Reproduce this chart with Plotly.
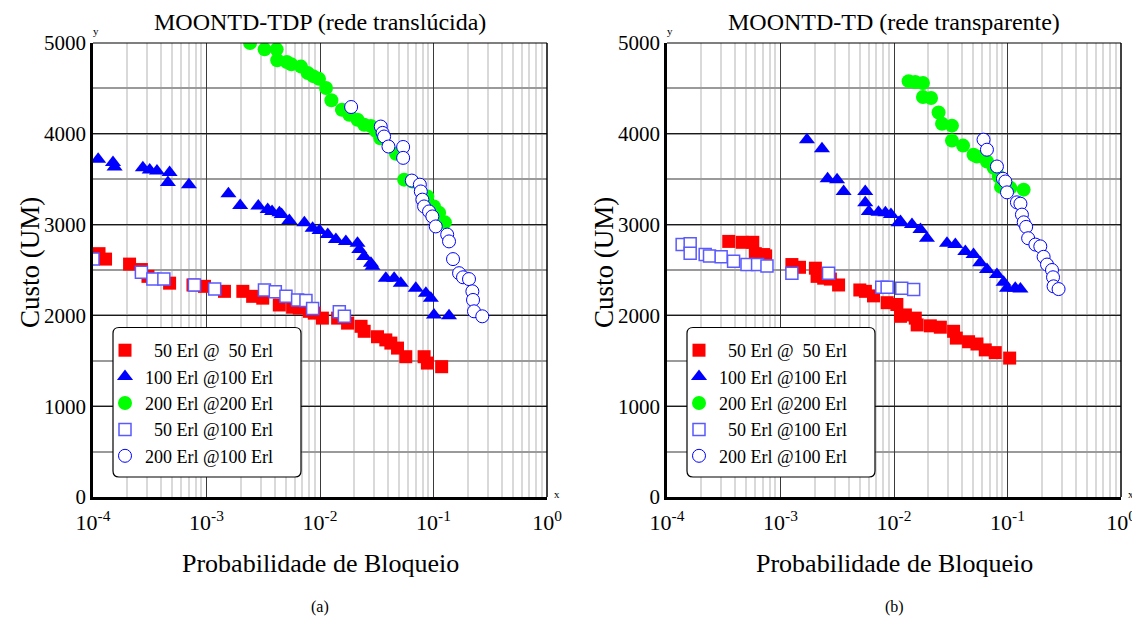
import plotly.graph_objects as go

# ---------------- data ----------------
series_names = ["\u200750 Erl @\u200750 Erl", "100 Erl @100 Erl", "200 Erl @200 Erl",
                "\u200750 Erl @100 Erl", "200 Erl @100 Erl"]

# (a) MOONTD-TDP (rede translúcida)
a_r_x = [0.000113, 0.000129, 0.00021, 0.000267, 0.000305, 0.000473, 0.00076, 0.00096, 0.00144, 0.00209,
         0.00255, 0.00313, 0.00438, 0.00574, 0.00657, 0.00805, 0.0089, 0.0105, 0.0143, 0.0175,
         0.023, 0.0245, 0.0321, 0.038, 0.0421, 0.0482, 0.057, 0.0826, 0.0883, 0.118]
a_r_y = [2680, 2620, 2565, 2505, 2430, 2355, 2335, 2320, 2265, 2265,
         2210, 2190, 2115, 2090, 2080, 2045, 2025, 1970, 1970, 1915,
         1880, 1825, 1765, 1730, 1695, 1640, 1545, 1545, 1475, 1435]

a_b_x = [0.000111, 0.00015, 0.000155, 0.000275, 0.000316, 0.000366, 0.000473, 0.000457, 0.0007, 0.00156,
         0.00198, 0.00286, 0.00346, 0.00378, 0.00439, 0.00459, 0.00537, 0.00728, 0.00861, 0.0099,
         0.0117, 0.0138, 0.0169, 0.0214, 0.0222, 0.0245, 0.0281, 0.029, 0.038, 0.045,
         0.0515, 0.0698, 0.0857, 0.0947, 0.101, 0.137]
a_b_y = [3720, 3685, 3635, 3625, 3600, 3590, 3575, 3465, 3440, 3340,
         3210, 3205, 3165, 3145, 3130, 3110, 3045, 3020, 2960, 2935,
         2890, 2835, 2815, 2795, 2725, 2650, 2575, 2540, 2410, 2410,
         2355, 2300, 2245, 2190, 2005, 1995]

a_g_x = [0.00242, 0.00325, 0.00415, 0.0042, 0.0051, 0.0056, 0.0068, 0.0078, 0.0087, 0.0098,
         0.0113, 0.0126, 0.0156, 0.0181, 0.0214, 0.0245, 0.0281, 0.0311, 0.034, 0.0467,
         0.0551, 0.0652, 0.0883, 0.101, 0.112, 0.126]
a_g_y = [5000, 4930, 4930, 4810, 4790, 4765, 4740, 4670, 4635, 4605,
         4505, 4370, 4265, 4210, 4155, 4100, 4085, 4030, 3950, 3780,
         3495, 3475, 3310, 3200, 3130, 3025]

a_s_x = [0.0001, 0.000267, 0.000337, 0.000421, 0.000783, 0.00118, 0.00324, 0.00404, 0.00501, 0.00635,
         0.00752, 0.00861, 0.0148, 0.0164]
a_s_y = [2620, 2475, 2400, 2400, 2335, 2290, 2280, 2260, 2210, 2170,
         2165, 2075, 2040, 1990]

a_c_x = [0.0188, 0.0343, 0.0356, 0.0367, 0.0401, 0.054, 0.054, 0.0644, 0.0758, 0.0773,
         0.0798, 0.0826, 0.0914, 0.0977, 0.1047, 0.132, 0.137, 0.1486, 0.168, 0.182,
         0.2055, 0.22, 0.223, 0.2275, 0.269]
a_c_y = [4295, 4080, 4010, 3970, 3860, 3855, 3735, 3485, 3440, 3365,
         3275, 3200, 3145, 3090, 2980, 2890, 2815, 2620, 2465, 2420,
         2400, 2265, 2170, 2045, 1990]

# (b) MOONTD-TD (rede transparente)
b_r_x = [0.00035, 0.00046, 0.00057, 0.0006, 0.00071, 0.00074, 0.00126, 0.00147, 0.00203, 0.0021,
         0.0024, 0.00275, 0.00325, 0.005, 0.0056, 0.0066, 0.0087, 0.0106, 0.0114, 0.0126,
         0.0154, 0.016, 0.0209, 0.0256, 0.0335, 0.0354, 0.0454, 0.0538, 0.0637, 0.078, 0.1045]
b_r_y = [2815, 2805, 2805, 2680, 2670, 2655, 2560, 2530, 2520, 2430,
         2410, 2400, 2335, 2280, 2265, 2215, 2140, 2120, 1990, 2005,
         1970, 1895, 1885, 1870, 1825, 1750, 1710, 1685, 1620, 1590, 1530]

b_b_x = [0.00171, 0.00232, 0.0026, 0.00315, 0.0036, 0.00558, 0.00558, 0.006, 0.0073, 0.0084,
         0.0094, 0.011, 0.0114, 0.0144, 0.0171, 0.0195, 0.0293, 0.0347, 0.0425, 0.0502,
         0.0575, 0.066, 0.0807, 0.0924, 0.099, 0.117, 0.13]
b_b_y = [3935, 3835, 3505, 3495, 3365, 3365, 3240, 3145, 3135, 3130,
         3110, 3020, 3035, 3000, 2945, 2850, 2795, 2780, 2705, 2670,
         2580, 2505, 2450, 2365, 2300, 2300, 2290]

b_g_x = [0.01345, 0.0154, 0.018, 0.018, 0.0212, 0.0247, 0.0265, 0.0324, 0.0324, 0.0406,
         0.0502, 0.0538, 0.0659, 0.0755, 0.0836, 0.0877, 0.106, 0.1387]
b_g_y = [4580, 4570, 4560, 4405, 4395, 4235, 4110, 4090, 3925, 3870,
         3770, 3750, 3695, 3625, 3530, 3415, 3405, 3385]

b_s_x = [0.000136, 0.00016, 0.00016, 0.000217, 0.000237, 0.0003, 0.000386, 0.000507, 0.000628, 0.00076,
         0.00126, 0.00265, 0.0078, 0.0087, 0.0117, 0.0149]
b_s_y = [2780, 2790, 2685, 2670, 2655, 2645, 2595, 2560, 2560, 2545,
         2465, 2465, 2310, 2310, 2300, 2285]

b_c_x = [0.0615, 0.0659, 0.0807, 0.0912, 0.0957, 0.099, 0.121, 0.13, 0.134, 0.139,
         0.146, 0.152, 0.176, 0.1945, 0.208, 0.223, 0.2466, 0.2518, 0.2547, 0.2818]
b_c_y = [3935, 3825, 3640, 3505, 3475, 3355, 3245, 3230, 3110, 3025,
         2975, 2850, 2780, 2760, 2645, 2560, 2500, 2420, 2320, 2290]

x_tickvals = [1e-4, 1e-3, 1e-2, 1e-1, 1]
x_ticktext = ["10<sup>-4</sup>", "10<sup>-3</sup>", "10<sup>-2</sup>", "10<sup>-1</sup>", "10<sup>0</sup>"]
y_tickvals = [0, 1000, 2000, 3000, 4000, 5000]
titles = ["MOONTD-TDP (rede translúcida)", "MOONTD-TD (rede transparente)"]
xlabel = "Probabilidade de Bloqueio"
ylabel = "Custo (UM)"
captions = ["(a)", "(b)"]

# ---------------- figure ----------------
OFF = 8  # page body margin of the browser
W, H = 1140 - OFF, 626 - OFF
FONT = "Liberation Serif, Times New Roman, serif"

styles = [
    dict(symbol="square", size=13, color="#ff0000", line=dict(width=0)),
    dict(symbol="triangle-up", size=14, color="#0000ff", line=dict(width=0)),
    dict(symbol="circle", size=14, color="#00ff00", line=dict(width=0)),
    dict(symbol="square", size=12, color="white", line=dict(width=1.5, color="#5a5aff")),
    dict(symbol="circle", size=13, color="white", line=dict(width=1, color="#0000ff")),
]

panels = [
    dict(xs=[a_r_x, a_b_x, a_g_x, a_s_x, a_c_x], ys=[a_r_y, a_b_y, a_g_y, a_s_y, a_c_y],
         left=93, right=547),
    dict(xs=[b_r_x, b_b_x, b_g_x, b_s_x, b_c_x], ys=[b_r_y, b_b_y, b_g_y, b_s_y, b_c_y],
         left=667, right=1121),
]
top, bottom = 43, 497

fig = go.Figure()
minor_vals = [k * 10 ** e for e in range(-4, 0) for k in range(2, 10)]


def X(v):
    return (v - OFF) / W


def Y(v):
    return 1 - (v - OFF) / H


shapes = []
annotations = []
for i, p in enumerate(panels):
    sfx = "" if i == 0 else str(i + 1)
    lg = "legend" if i == 0 else "legend2"
    for j in range(5):
        fig.add_trace(go.Scatter(
            x=p["xs"][j], y=p["ys"][j], mode="markers", name=series_names[j],
            marker=styles[j], xaxis="x" + sfx, yaxis="y" + sfx, legend=lg,
        ))
    xd = [X(p["left"]), X(p["right"])]
    yd = [Y(bottom), Y(top)]
    fig.layout["xaxis" + sfx] = dict(
        type="log", domain=xd, range=[-4, 0], anchor="y" + sfx, automargin=False,
        tickvals=x_tickvals, ticktext=x_ticktext, ticks="", ticklabelstandoff=4,
        showgrid=True, gridcolor="#3a3a3a", gridwidth=1,
        minor=dict(tickvals=minor_vals, showgrid=True, gridcolor="#d9d9d9", gridwidth=2, ticks=""),
        showline=True, linecolor="black", linewidth=2.5, zeroline=False,
        tickfont=dict(family=FONT, size=22, color="black"),
    )
    fig.layout["yaxis" + sfx] = dict(
        domain=yd, range=[0, 5000], anchor="x" + sfx, automargin=False,
        tickvals=y_tickvals, ticks="",
        showgrid=True, gridcolor="#1a1a1a", gridwidth=1,
        minor=dict(dtick=500, showgrid=True, gridcolor="#9a9a9a", gridwidth=1.5, ticks=""),
        showline=True, linecolor="black", linewidth=2.5, zeroline=False,
        tickfont=dict(family=FONT, size=21, color="black"),
    )
    # top & right frame lines
    shapes.append(dict(type="line", xref="paper", yref="paper", x0=xd[0], x1=xd[1], y0=yd[1], y1=yd[1],
                       line=dict(color="black", width=1.2), layer="above"))
    shapes.append(dict(type="line", xref="paper", yref="paper", x0=xd[1], x1=xd[1], y0=yd[0], y1=yd[1],
                       line=dict(color="black", width=1.5), layer="above"))
    # rounded legend box
    bx0, bx1 = p["left"] + 20, p["left"] + 208
    by0, by1 = 327.5, 477
    r = 6
    path = (f"M {X(bx0 + r)},{Y(by0)} L {X(bx1 - r)},{Y(by0)} Q {X(bx1)},{Y(by0)} {X(bx1)},{Y(by0 + r)} "
            f"L {X(bx1)},{Y(by1 - r)} Q {X(bx1)},{Y(by1)} {X(bx1 - r)},{Y(by1)} "
            f"L {X(bx0 + r)},{Y(by1)} Q {X(bx0)},{Y(by1)} {X(bx0)},{Y(by1 - r)} "
            f"L {X(bx0)},{Y(by0 + r)} Q {X(bx0)},{Y(by0)} {X(bx0 + r)},{Y(by0)} Z")
    shapes.append(dict(type="path", xref="paper", yref="paper", path=path,
                       fillcolor="white", line=dict(color="black", width=1.2), layer="above"))
    fig.layout[lg] = dict(
        x=X(p["left"] + 12), y=Y(332), xanchor="left", yanchor="top",
        bgcolor="rgba(0,0,0,0)", borderwidth=0,
        font=dict(family=FONT, size=18, color="black"),
        itemclick=False,
    )
    cx = X((p["left"] + p["right"]) / 2)
    annotations += [
        dict(text=titles[i], x=cx, y=Y(22), xref="paper", yref="paper", showarrow=False,
             font=dict(family=FONT, size=24, color="black"), xanchor="center", yanchor="middle"),
        dict(text=xlabel, x=cx, y=Y(563), xref="paper", yref="paper", showarrow=False,
             font=dict(family=FONT, size=26, color="black"), xanchor="center", yanchor="middle"),
        dict(text=captions[i], x=cx, y=Y(607), xref="paper", yref="paper", showarrow=False,
             font=dict(family=FONT, size=16, color="black"), xanchor="center", yanchor="middle"),
        dict(text=ylabel, x=X(p["left"] - 63), y=Y(263), xref="paper", yref="paper",
             showarrow=False, textangle=-90,
             font=dict(family=FONT, size=27, color="black"), xanchor="center", yanchor="middle"),
        dict(text="y", x=X(p["left"] + 3), y=Y(31), xref="paper", yref="paper", showarrow=False,
             font=dict(family=FONT, size=11, color="black"), xanchor="center", yanchor="middle"),
        dict(text="x", x=X(p["right"] + 10), y=Y(494), xref="paper", yref="paper", showarrow=False,
             font=dict(family=FONT, size=11, color="black"), xanchor="center", yanchor="middle"),
    ]

fig.update_layout(
    width=W, height=H, margin=dict(l=0, r=0, t=0, b=0, autoexpand=False),
    paper_bgcolor="white", plot_bgcolor="white",
    showlegend=True, shapes=shapes, annotations=annotations,
    font=dict(family=FONT, color="black"),
)

fig.write_html("out.html")
